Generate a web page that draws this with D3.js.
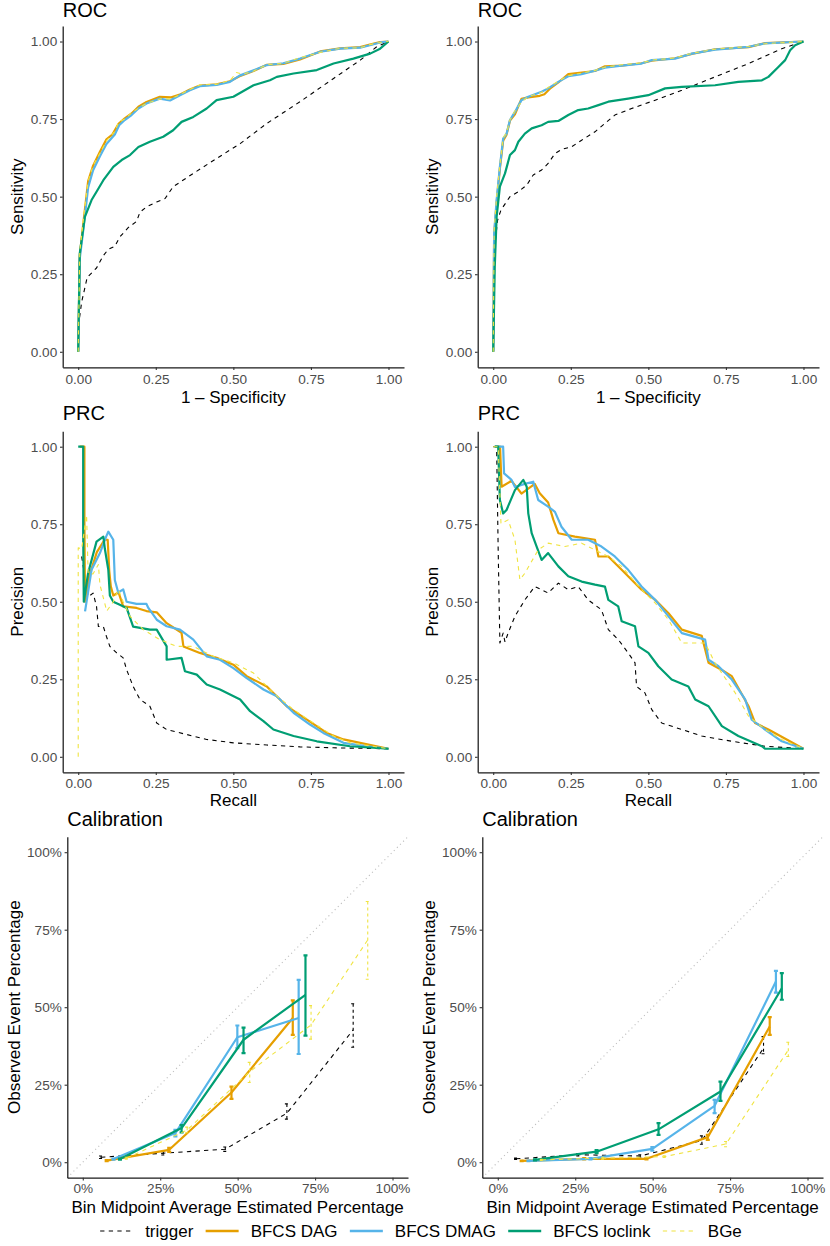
<!DOCTYPE html>
<html><head><meta charset="utf-8">
<script src="https://cdn.jsdelivr.net/npm/d3@7"></script>
<style>body{margin:0;background:#fff}svg{display:block}text{font-family:"Liberation Sans",Arial,Helvetica,sans-serif}</style>
</head><body><svg id="c" width="830" height="1246"></svg>
<script>
// ---------- series ----------
const seriesNames = ["trigger", "BFCS DAG", "BFCS DMAG", "BFCS loclink", "BGe"];
const seriesColors = ["#000000", "#E69F00", "#56B4E9", "#009E73", "#F0E442"];

const unitTicks = [0, 0.25, 0.5, 0.75, 1];
const unitTickLabels = ["0.00", "0.25", "0.50", "0.75", "1.00"];
const pctTicks = [0, 25, 50, 75, 100];
const pctTickLabels = ["0%", "25%", "50%", "75%", "100%"];

// ---------- ROC, left (x = 1 - specificity, y = sensitivity) ----------
const rocA_trigger = [[0,0],[0.003,0.10],[0.011,0.16],[0.029,0.24],[0.059,0.27],[0.081,0.31],[0.097,0.33],[0.118,0.34],[0.134,0.37],[0.161,0.40],[0.188,0.42],[0.199,0.45],[0.22,0.467],[0.253,0.483],[0.28,0.494],[0.306,0.532],[0.371,0.575],[0.446,0.623],[0.522,0.671],[0.608,0.736],[0.715,0.806],[0.823,0.881],[0.909,0.94],[0.962,0.983],[1,1]];
const rocA_dag = [[0,0],[0.005,0.31],[0.016,0.41],[0.032,0.55],[0.048,0.60],[0.07,0.645],[0.091,0.685],[0.11,0.70],[0.13,0.735],[0.15,0.752],[0.172,0.768],[0.194,0.79],[0.22,0.805],[0.263,0.822],[0.3,0.82],[0.33,0.83],[0.36,0.845],[0.392,0.858],[0.446,0.862],[0.489,0.872],[0.52,0.888],[0.565,0.905],[0.608,0.925],[0.661,0.928],[0.715,0.942],[0.78,0.968],[0.844,0.978],[0.909,0.982],[0.94,0.99],[0.973,0.998],[1,1]];
const rocA_dmag = [[0,0],[0.005,0.30],[0.016,0.39],[0.032,0.53],[0.048,0.585],[0.07,0.63],[0.091,0.67],[0.118,0.70],[0.132,0.73],[0.15,0.747],[0.172,0.763],[0.194,0.784],[0.22,0.80],[0.263,0.816],[0.296,0.81],[0.328,0.827],[0.36,0.843],[0.392,0.856],[0.446,0.86],[0.489,0.87],[0.52,0.89],[0.565,0.907],[0.608,0.924],[0.661,0.93],[0.715,0.945],[0.78,0.967],[0.844,0.977],[0.909,0.98],[0.94,0.988],[0.973,0.997],[1,1]];
const rocA_loclink = [[0,0],[0.005,0.317],[0.0215,0.435],[0.043,0.489],[0.059,0.516],[0.081,0.553],[0.113,0.596],[0.14,0.618],[0.167,0.634],[0.194,0.66],[0.231,0.677],[0.274,0.693],[0.306,0.714],[0.333,0.741],[0.371,0.757],[0.414,0.784],[0.446,0.811],[0.5,0.822],[0.565,0.859],[0.618,0.875],[0.64,0.886],[0.694,0.897],[0.769,0.908],[0.823,0.929],[0.887,0.945],[0.941,0.961],[0.973,0.977],[1,1]];
const rocA_bge = [[0,0],[0.005,0.32],[0.016,0.42],[0.032,0.55],[0.048,0.60],[0.07,0.64],[0.091,0.68],[0.118,0.71],[0.13,0.74],[0.15,0.75],[0.172,0.77],[0.194,0.785],[0.22,0.80],[0.263,0.815],[0.3,0.815],[0.33,0.83],[0.36,0.845],[0.392,0.86],[0.446,0.862],[0.49,0.875],[0.51,0.90],[0.53,0.895],[0.565,0.905],[0.608,0.925],[0.661,0.93],[0.715,0.948],[0.78,0.965],[0.844,0.978],[0.909,0.98],[0.94,0.99],[0.973,0.997],[1,1]];

// ---------- ROC, right ----------
const rocB_trigger = [[0,0],[0.005,0.338],[0.014,0.424],[0.025,0.457],[0.054,0.50],[0.081,0.516],[0.108,0.537],[0.129,0.57],[0.156,0.586],[0.177,0.607],[0.199,0.639],[0.22,0.652],[0.253,0.661],[0.285,0.682],[0.328,0.709],[0.36,0.736],[0.392,0.763],[0.446,0.784],[0.522,0.811],[0.608,0.843],[0.715,0.886],[0.823,0.929],[0.93,0.977],[1,1]];
const rocB_dag = [[0,0],[0.003,0.375],[0.011,0.48],[0.0215,0.59],[0.032,0.68],[0.043,0.70],[0.054,0.745],[0.07,0.765],[0.091,0.815],[0.113,0.82],[0.15,0.825],[0.165,0.83],[0.185,0.85],[0.21,0.868],[0.242,0.895],[0.285,0.9],[0.328,0.905],[0.36,0.92],[0.414,0.922],[0.478,0.93],[0.511,0.938],[0.586,0.946],[0.64,0.96],[0.715,0.975],[0.823,0.982],[0.876,0.995],[1,1]];
const rocB_dmag = [[0,0],[0.003,0.381],[0.011,0.489],[0.0215,0.596],[0.032,0.687],[0.043,0.703],[0.054,0.747],[0.07,0.773],[0.091,0.811],[0.113,0.822],[0.156,0.838],[0.177,0.849],[0.21,0.87],[0.242,0.888],[0.285,0.895],[0.328,0.906],[0.36,0.916],[0.414,0.922],[0.478,0.929],[0.511,0.94],[0.586,0.945],[0.64,0.961],[0.715,0.974],[0.823,0.983],[0.876,0.994],[1,1]];
const rocB_loclink = [[0,0],[0.005,0.274],[0.011,0.435],[0.0215,0.532],[0.038,0.575],[0.054,0.634],[0.07,0.65],[0.081,0.677],[0.102,0.703],[0.124,0.72],[0.156,0.73],[0.177,0.741],[0.21,0.744],[0.242,0.763],[0.274,0.779],[0.306,0.784],[0.339,0.795],[0.371,0.806],[0.435,0.816],[0.5,0.827],[0.554,0.849],[0.608,0.854],[0.715,0.859],[0.79,0.87],[0.866,0.875],[0.887,0.886],[0.919,0.918],[0.941,0.94],[0.957,0.972],[0.973,0.988],[1,1]];
const rocB_bge = [[0,0],[0.003,0.39],[0.011,0.50],[0.0215,0.60],[0.032,0.69],[0.043,0.705],[0.054,0.748],[0.07,0.776],[0.091,0.805],[0.113,0.823],[0.156,0.836],[0.177,0.852],[0.21,0.872],[0.242,0.89],[0.285,0.898],[0.328,0.907],[0.36,0.917],[0.414,0.925],[0.478,0.931],[0.511,0.94],[0.586,0.947],[0.64,0.962],[0.715,0.975],[0.823,0.984],[0.876,0.993],[1,1]];

// ---------- PRC, left (x = recall, y = precision) ----------
const prcA_trigger = [[0.011,0.646],[0.016,0.615],[0.032,0.517],[0.038,0.52],[0.048,0.528],[0.059,0.485],[0.065,0.42],[0.081,0.42],[0.091,0.388],[0.102,0.356],[0.124,0.335],[0.145,0.319],[0.156,0.281],[0.177,0.227],[0.199,0.185],[0.231,0.163],[0.253,0.109],[0.285,0.088],[0.349,0.072],[0.414,0.056],[0.5,0.045],[0.608,0.038],[0.715,0.032],[0.823,0.029],[1,0.026]];
const prcA_dag = [[0.005,1],[0.02,1],[0.02,0.75],[0.022,0.5],[0.035,0.58],[0.06,0.66],[0.085,0.70],[0.095,0.70],[0.1,0.6],[0.105,0.55],[0.113,0.52],[0.13,0.53],[0.145,0.485],[0.188,0.48],[0.22,0.47],[0.253,0.466],[0.285,0.431],[0.333,0.40],[0.339,0.356],[0.392,0.335],[0.446,0.319],[0.5,0.297],[0.543,0.26],[0.608,0.227],[0.672,0.163],[0.737,0.12],[0.801,0.077],[0.855,0.056],[1,0.026]];
const prcA_dmag = [[0.022,0.469],[0.043,0.603],[0.07,0.657],[0.09,0.71],[0.097,0.726],[0.113,0.70],[0.118,0.57],[0.129,0.53],[0.145,0.54],[0.156,0.50],[0.188,0.493],[0.22,0.493],[0.226,0.48],[0.253,0.442],[0.285,0.421],[0.328,0.41],[0.371,0.378],[0.414,0.324],[0.457,0.313],[0.5,0.286],[0.543,0.254],[0.597,0.217],[0.64,0.195],[0.694,0.142],[0.747,0.104],[0.79,0.077],[0.855,0.045],[0.93,0.034],[1,0.026]];
const prcA_loclink = [[0,1],[0.016,1],[0.016,0.73],[0.018,0.50],[0.032,0.593],[0.059,0.694],[0.081,0.71],[0.086,0.67],[0.097,0.603],[0.102,0.52],[0.113,0.50],[0.134,0.49],[0.156,0.48],[0.177,0.42],[0.231,0.41],[0.253,0.41],[0.285,0.356],[0.285,0.313],[0.333,0.319],[0.344,0.276],[0.382,0.265],[0.414,0.233],[0.457,0.217],[0.522,0.185],[0.554,0.147],[0.597,0.115],[0.629,0.088],[0.694,0.067],[0.769,0.05],[0.876,0.034],[1,0.026]];
const prcA_bge = [[0,0],[0,0.674],[0.011,0.67],[0.027,0.78],[0.032,0.59],[0.048,0.59],[0.065,0.62],[0.07,0.555],[0.092,0.47],[0.113,0.50],[0.129,0.54],[0.145,0.50],[0.167,0.453],[0.21,0.41],[0.263,0.378],[0.317,0.356],[0.371,0.356],[0.435,0.324],[0.5,0.303],[0.565,0.27],[0.629,0.206],[0.694,0.152],[0.758,0.109],[0.823,0.067],[0.876,0.045],[1,0.026]];

// ---------- PRC, right ----------
const prcB_trigger = [[0,1],[0.011,1],[0.016,0.667],[0.0215,0.367],[0.032,0.399],[0.038,0.37],[0.048,0.399],[0.07,0.453],[0.102,0.506],[0.134,0.549],[0.156,0.539],[0.177,0.528],[0.21,0.56],[0.242,0.539],[0.274,0.549],[0.306,0.506],[0.349,0.474],[0.371,0.41],[0.403,0.378],[0.435,0.335],[0.457,0.303],[0.462,0.227],[0.489,0.206],[0.511,0.152],[0.543,0.109],[0.608,0.088],[0.672,0.067],[0.769,0.05],[0.876,0.034],[1,0.026]];
const prcB_dag = [[0.005,1],[0.022,1],[0.027,0.871],[0.059,0.89],[0.091,0.849],[0.134,0.88],[0.15,0.85],[0.177,0.82],[0.194,0.764],[0.21,0.721],[0.263,0.71],[0.328,0.70],[0.339,0.646],[0.371,0.646],[0.414,0.603],[0.478,0.539],[0.522,0.506],[0.565,0.463],[0.608,0.41],[0.672,0.39],[0.694,0.303],[0.737,0.28],[0.769,0.26],[0.823,0.163],[0.844,0.109],[0.887,0.088],[1,0.026]];
const prcB_dmag = [[0.005,1],[0.032,1],[0.035,0.914],[0.059,0.893],[0.07,0.87],[0.102,0.88],[0.129,0.887],[0.145,0.828],[0.177,0.807],[0.199,0.79],[0.22,0.742],[0.253,0.70],[0.306,0.70],[0.349,0.678],[0.392,0.646],[0.435,0.603],[0.478,0.549],[0.522,0.506],[0.565,0.453],[0.608,0.399],[0.683,0.378],[0.694,0.313],[0.726,0.292],[0.769,0.249],[0.812,0.185],[0.833,0.12],[0.876,0.088],[0.93,0.05],[1,0.026]];
const prcB_loclink = [[0.005,1],[0.016,1],[0.0215,0.828],[0.032,0.785],[0.043,0.796],[0.07,0.86],[0.097,0.893],[0.108,0.871],[0.113,0.785],[0.124,0.721],[0.14,0.678],[0.156,0.635],[0.177,0.657],[0.21,0.614],[0.242,0.582],[0.285,0.565],[0.328,0.555],[0.36,0.549],[0.371,0.506],[0.403,0.485],[0.414,0.437],[0.457,0.421],[0.468,0.356],[0.5,0.335],[0.532,0.292],[0.575,0.249],[0.629,0.227],[0.651,0.185],[0.694,0.163],[0.737,0.099],[0.79,0.067],[0.866,0.034],[0.876,0.026],[1,0.026]];
const prcB_bge = [[0,1],[0.016,1],[0.025,0.752],[0.048,0.764],[0.07,0.70],[0.086,0.571],[0.102,0.592],[0.145,0.667],[0.177,0.689],[0.231,0.678],[0.285,0.689],[0.328,0.667],[0.371,0.646],[0.414,0.614],[0.478,0.539],[0.522,0.496],[0.565,0.442],[0.608,0.367],[0.683,0.367],[0.715,0.302],[0.78,0.206],[0.823,0.131],[0.876,0.088],[0.93,0.056],[1,0.026]];

// ---------- Calibration: [bin midpoint %, observed %, lower %, upper %] ----------
const calA_trigger = [[5.9,1.6,1.2,2.0],[26,2.9,2.3,3.5],[46,4.2,3.5,4.9],[65.9,15.8,13.9,18.8],[87.3,42.7,37.1,51.1]];
const calA_dag = [[7.7,0.5,0.3,0.7],[27.9,4.0,3.3,4.6],[48,22.5,20.4,24.4],[67.8,46.5,41.1,52.2]];
const calA_dmag = [[9.9,1.0,0.8,1.2],[29.9,9.4,8.3,10.4],[49.9,40.3,36.8,44.1],[69.7,46.5,34.9,58.8]];
const calA_loclink = [[12,1.0,0.8,1.2],[31.9,11,9.6,12],[51.9,39.5,35.2,43.4],[71.9,54,40.8,66.7]];
const calA_bge = [[14.2,1.3,1.0,1.6],[33.7,10.4,9.5,11.3],[53.9,29.2,25.7,32.2],[73.7,44.3,39.7,50.5],[92,71.7,59,84.1]];

const calB_trigger = [[5.9,1.1,0.9,1.3],[26,2.4,2.0,2.8],[46,2.0,1.6,2.4],[65.9,7.0,5.8,8.5],[85.8,36.8,35,40.5]];
const calB_dag = [[7.7,0.4,0.3,0.5],[27.9,1.1,0.9,1.3],[48,1.1,0.9,1.3],[67.8,8.1,7.2,8.8],[87.8,43.8,41.1,46.8]];
const calB_dmag = [[9.9,0.4,0.3,0.5],[29.9,1.1,0.9,1.3],[49.9,4.3,3.7,4.9],[70,18.2,15.8,20.1],[89.8,58.3,54.7,61.7]];
const calB_loclink = [[12,0.75,0.6,0.9],[31.9,3.4,2.9,3.9],[51.9,10.6,8.8,12.6],[71.9,22.8,19.8,26],[91.7,56.1,52.4,61]];
const calB_bge = [[14.2,0.75,0.6,0.9],[34,1.3,1.0,1.6],[53.9,1.8,1.5,2.1],[73.7,5.9,5,6.7],[93.8,36.2,34.1,38.7]];

// ---------- drawing ----------
const svg = d3.select("#c");
const FS = {title: 20, axisTitle: 17, tick: 13.6, legend: 17};
const seriesStyle = [
  {w: 1.1, dash: "4.3,4.3"},
  {w: 2.2, dash: null},
  {w: 2.2, dash: null},
  {w: 2.2, dash: null},
  {w: 1.1, dash: "4.3,4.3"}
];
const colOffset = [0, 415];

const cfgROC = {title: "ROC", titleY: 17, x0: 62.7, x1: 404, y0: 367.3, y1: 26, dom: [-0.05, 1.05],
  ticks: unitTicks, labels: unitTickLabels, xTitle: "1 – Specificity", yTitle: "Sensitivity",
  xTickPad: 4.1, xTitleC: 396.7, yTitleX: 17.3, kind: "curve"};
const cfgPRC = {title: "PRC", titleY: 420, x0: 62.7, x1: 404, y0: 772.3, y1: 431.2, dom: [-0.05, 1.05],
  ticks: unitTicks, labels: unitTickLabels, xTitle: "Recall", yTitle: "Precision",
  xTickPad: 3.1, xTitleC: 800, yTitleX: 17.3, kind: "curve"};
const cfgCAL = {title: "Calibration", titleY: 826, x0: 67.3, x1: 408, y0: 1177.7, y1: 836.7, dom: [-5, 105],
  ticks: pctTicks, labels: pctTickLabels, xTitle: "Bin Midpoint Average Estimated Percentage", yTitle: "Observed Event Percentage",
  xTickPad: 3.0, xTitleC: 1206.7, yTitleX: 14, kind: "cal"};

function drawPanel(cfg, col, seriesData) {
  const off = colOffset[col];
  const x = d3.scaleLinear().domain(cfg.dom).range([cfg.x0 + off, cfg.x1 + off]);
  const y = d3.scaleLinear().domain(cfg.dom).range([cfg.y0, cfg.y1]);
  const g = svg.append("g");

  if (cfg.kind === "cal") {
    g.append("line")
      .attr("x1", x(cfg.dom[0])).attr("y1", y(cfg.dom[0]))
      .attr("x2", x(cfg.dom[1])).attr("y2", y(cfg.dom[1]))
      .attr("stroke", "#BEBEBE").attr("stroke-width", 1.1).attr("stroke-dasharray", "1.1,3.3");
  }

  const fmtX = (d) => cfg.labels[cfg.ticks.indexOf(d)];
  const ax = g.append("g").attr("transform", `translate(0,${cfg.y0})`)
    .call(d3.axisBottom(x).tickValues(cfg.ticks).tickFormat(fmtX).tickSize(2.7).tickSizeOuter(0).tickPadding(cfg.xTickPad));
  const ay = g.append("g").attr("transform", `translate(${cfg.x0 + off},0)`)
    .call(d3.axisLeft(y).tickValues(cfg.ticks).tickFormat(fmtX).tickSize(2.7).tickSizeOuter(0).tickPadding(2.8));
  [ax, ay].forEach(a => {
    a.select(".domain").attr("stroke", "#1a1a1a").attr("stroke-width", 1.25);
    a.selectAll(".tick line").attr("stroke", "#333").attr("stroke-width", 1.1);
    a.selectAll(".tick text").attr("fill", "#4D4D4D").attr("font-size", FS.tick)
      .attr("font-family", '"Liberation Sans",Arial,Helvetica,sans-serif');
  });

  g.append("text").attr("x", cfg.x0 + off).attr("y", cfg.titleY).attr("font-size", FS.title).attr("fill", "#000").text(cfg.title);
  g.append("text").attr("x", (cfg.x0 + cfg.x1) / 2 + off).attr("y", cfg.xTitleC).attr("dy", "0.35em")
    .attr("text-anchor", "middle").attr("font-size", FS.axisTitle).attr("fill", "#000").text(cfg.xTitle);
  g.append("text").attr("transform", `translate(${cfg.yTitleX + off},${(cfg.y0 + cfg.y1) / 2}) rotate(-90)`)
    .attr("dy", "0.35em").attr("text-anchor", "middle").attr("font-size", FS.axisTitle).attr("fill", "#000").text(cfg.yTitle);

  const line = d3.line().x(d => x(d[0])).y(d => y(d[1]));
  seriesData.forEach((data, i) => {
    const st = seriesStyle[i];
    const p = g.append("path").datum(data).attr("d", line).attr("fill", "none")
      .attr("stroke", seriesColors[i]).attr("stroke-width", st.w).attr("stroke-linejoin", "round");
    if (st.dash) p.attr("stroke-dasharray", st.dash);
    if (cfg.kind === "cal") {
      const capHalf = 0.65;
      const eb = g.append("g").attr("stroke", seriesColors[i]).attr("stroke-width", st.w).attr("fill", "none");
      data.forEach(d => {
        const pathD = `M${x(d[0] - capHalf)},${y(d[3])}H${x(d[0] + capHalf)}M${x(d[0])},${y(d[3])}V${y(d[2])}M${x(d[0] - capHalf)},${y(d[2])}H${x(d[0] + capHalf)}`;
        const e = eb.append("path").attr("d", pathD);
        if (st.dash) e.attr("stroke-dasharray", "3,3");
      });
    }
  });
}

drawPanel(cfgROC, 0, [rocA_trigger, rocA_dag, rocA_dmag, rocA_loclink, rocA_bge]);
drawPanel(cfgROC, 1, [rocB_trigger, rocB_dag, rocB_dmag, rocB_loclink, rocB_bge]);
drawPanel(cfgPRC, 0, [prcA_trigger, prcA_dag, prcA_dmag, prcA_loclink, prcA_bge]);
drawPanel(cfgPRC, 1, [prcB_trigger, prcB_dag, prcB_dmag, prcB_loclink, prcB_bge]);
drawPanel(cfgCAL, 0, [calA_trigger, calA_dag, calA_dmag, calA_loclink, calA_bge]);
drawPanel(cfgCAL, 1, [calB_trigger, calB_dag, calB_dmag, calB_loclink, calB_bge]);

// ---------- legend ----------
const legendY = 1231, legendCX = 421, keyW = 33, keyGap = 12, itemGap = 12.3;
const lg = svg.append("g");
const texts = seriesNames.map(n => lg.append("text").attr("font-size", FS.legend).attr("fill", "#000").attr("dy", "0.35em").text(n));
const widths = texts.map(t => t.node().getComputedTextLength());
const total = d3.sum(widths) + seriesNames.length * (keyW + keyGap) + (seriesNames.length - 1) * itemGap;
let cx = legendCX - total / 2;
seriesNames.forEach((n, i) => {
  const st = seriesStyle[i];
  const k = lg.append("line").attr("x1", cx).attr("x2", cx + keyW).attr("y1", legendY).attr("y2", legendY)
    .attr("stroke", seriesColors[i]).attr("stroke-width", st.w === 2.2 ? 2.4 : 1.1);
  if (st.dash) k.attr("stroke-dasharray", st.dash);
  cx += keyW + keyGap;
  texts[i].attr("x", cx).attr("y", legendY);
  cx += widths[i] + itemGap;
});
</script></body></html>
